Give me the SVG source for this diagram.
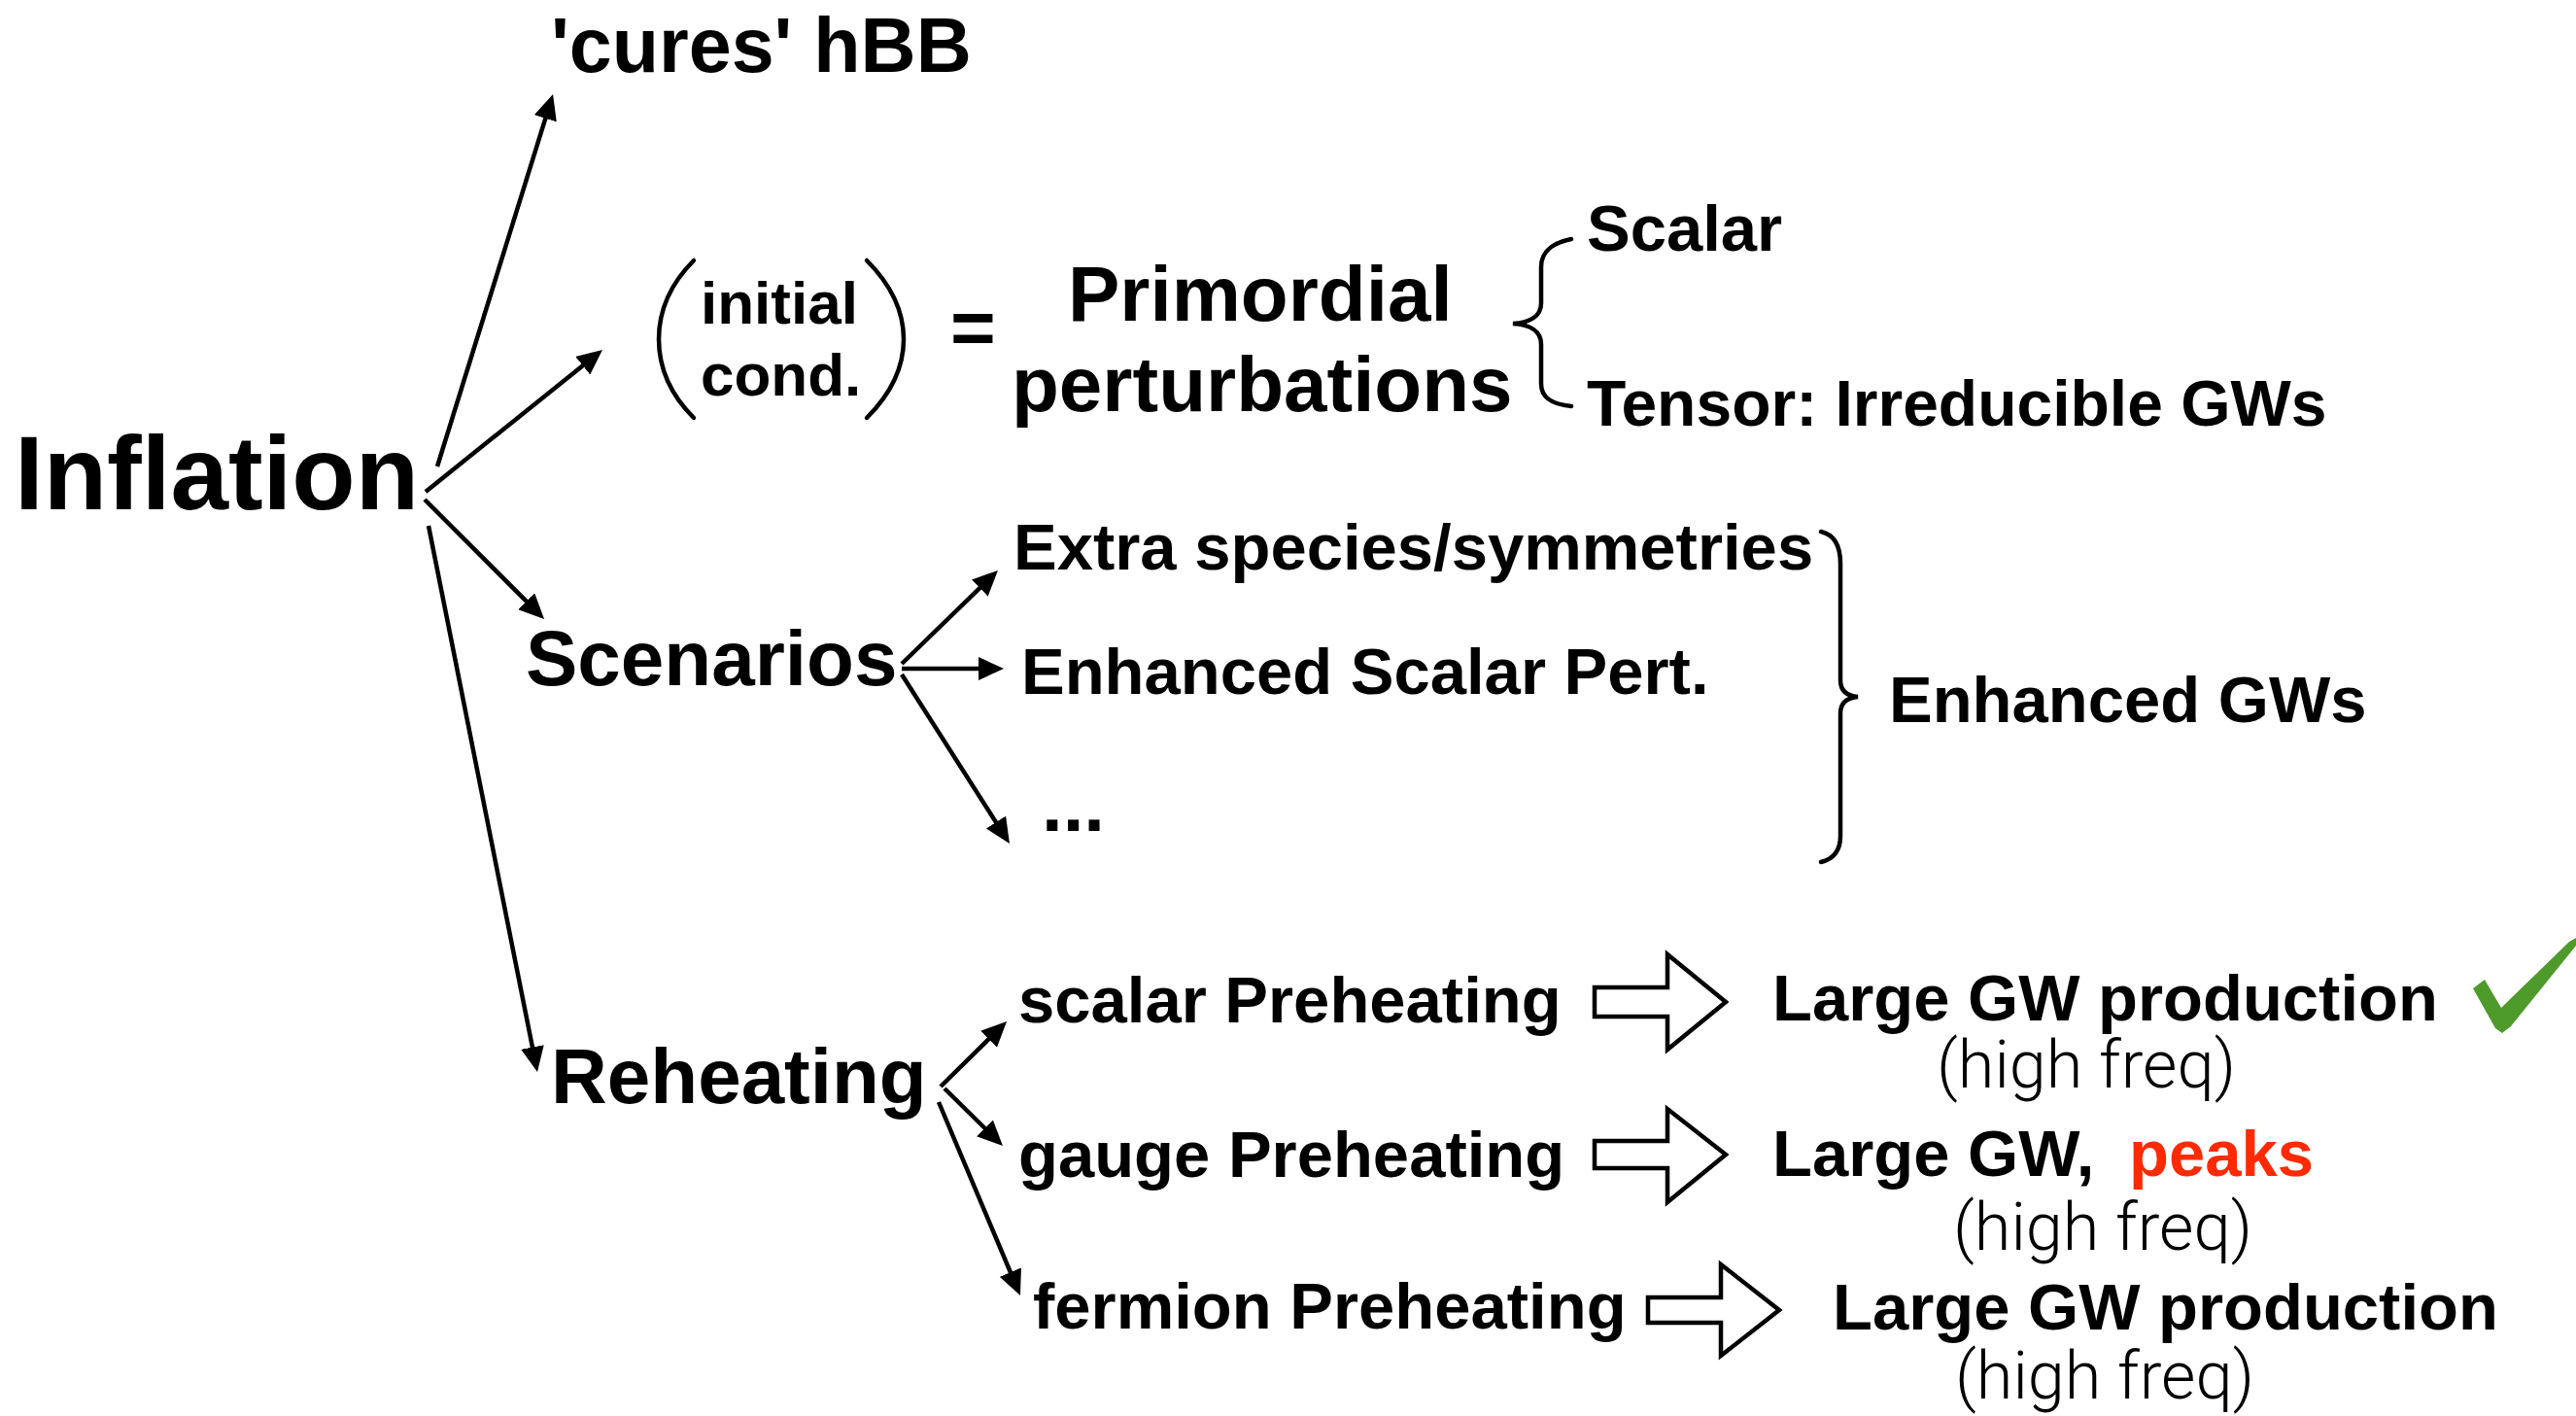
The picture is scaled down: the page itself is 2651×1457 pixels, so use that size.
<svg xmlns="http://www.w3.org/2000/svg" width="2651" height="1457" viewBox="0 0 2651 1457">
<style>
.b{font-family:"Liberation Sans",Arial,Helvetica,sans-serif;font-weight:bold;fill:#000}
.l{font-family:Roboto,"Liberation Sans",Arial,sans-serif;font-weight:300;fill:#000;font-size:68px}
.s67{font-size:67px}
.s80{font-size:80px}
.ar{stroke:#000;stroke-width:4.5;fill:none}
.blk{stroke:#000;stroke-width:4.5;fill:#fff;stroke-linejoin:miter}
.br{stroke:#000;stroke-width:4.5;fill:none;stroke-linecap:round}
</style>
<defs>
<marker id="ah" viewBox="0 0 26 24" refX="6" refY="12" markerWidth="26" markerHeight="24" markerUnits="userSpaceOnUse" orient="auto">
<path d="M0,0 L26,12 L0,24 Z" fill="#000"/>
</marker>
</defs>
<rect width="2651" height="1457" fill="#fff"/>

<g id="connectors">
<line class="ar" x1="450" y1="480" x2="563.1" y2="116.1" marker-end="url(#ah)"/>
<line class="ar" x1="438" y1="506" x2="604.4" y2="372.5" marker-end="url(#ah)"/>
<line class="ar" x1="437" y1="514" x2="545.9" y2="622.9" marker-end="url(#ah)"/>
<line class="ar" x1="441" y1="541" x2="549.1" y2="1083.4" marker-end="url(#ah)"/>
<line class="ar" x1="928" y1="683" x2="1012.6" y2="600.9" marker-end="url(#ah)"/>
<line class="ar" x1="928" y1="688" x2="1013" y2="688" marker-end="url(#ah)"/>
<line class="ar" x1="928" y1="694" x2="1028.2" y2="851.1" marker-end="url(#ah)"/>
<line class="ar" x1="968" y1="1118" x2="1021.8" y2="1065" marker-end="url(#ah)"/>
<line class="ar" x1="972" y1="1120" x2="1017.7" y2="1165" marker-end="url(#ah)"/>
<line class="ar" x1="966" y1="1134" x2="1042.2" y2="1314.6" marker-end="url(#ah)"/>
<path class="blk" d="M1641,1016 L1716,1016 L1716,982 L1776,1031 L1716,1080 L1716,1046 L1641,1046 Z"/>
<path class="blk" d="M1641,1174 L1716,1174 L1716,1141 L1776,1188 L1716,1237 L1716,1202 L1641,1202 Z"/>
<path class="blk" d="M1696,1335 L1771,1335 L1771,1301 L1831,1348 L1771,1395 L1771,1361 L1696,1361 Z"/>
</g>

<g id="inflation"><text class="b" x="15" y="524" font-size="107">Inflation</text></g>
<g id="cures"><text class="b" x="567" y="74" font-size="79">'cures' hBB</text></g>
<g id="initial-cond">
<path class="br" stroke-width="3.8" d="M714,268 C688,294 678,322 678,349 C678,376 688,404 714,430"/>
<path class="br" stroke-width="3.8" d="M892,268 C918,294 930,322 930,349 C930,376 918,404 892,430"/>
<text class="b" x="721" y="333" font-size="62">initial</text>
<text class="b" x="721" y="407" font-size="62">cond.</text>
</g>
<g id="equals"><text class="b" x="978" y="364" font-size="80">=</text></g>
<g id="primordial">
<text class="b s80" x="1099" y="330">Primordial</text>
<text class="b s80" x="1041" y="423">perturbations</text>
<path class="br" d="M1617,246 C1598,250 1586,258 1586,275 L1586,312 C1586,325 1575,332 1557,333 C1575,334 1586,341 1586,354 L1586,395 C1586,410 1598,416 1617,418"/>
</g>
<g id="scalar"><text class="b s67" x="1633" y="258">Scalar</text></g>
<g id="tensor"><text class="b" x="1633" y="438" font-size="66">Tensor: Irreducible GWs</text></g>
<g id="scenarios"><text class="b s80" x="541" y="705">Scenarios</text></g>
<g id="extra"><text class="b s67" x="1043" y="586">Extra species/symmetries</text></g>
<g id="enhanced-scalar"><text class="b s67" x="1051" y="714">Enhanced Scalar Pert.</text></g>
<g id="dots"><text class="b" x="1072" y="855" font-size="78">...</text></g>
<g id="enhanced-gws">
<path class="br" d="M1874,547 C1887,550 1894,560 1894,580 L1894,700 C1894,710 1900,716 1912,717 C1900,718 1894,724 1894,734 L1894,860 C1894,876 1887,884 1874,887"/>
<text class="b s67" x="1944" y="743">Enhanced GWs</text>
</g>
<g id="reheating"><text class="b s80" x="567" y="1135">Reheating</text></g>
<g id="scalar-preheating"><text class="b s67" x="1048" y="1052">scalar Preheating</text></g>
<g id="gauge-preheating"><text class="b s67" x="1048" y="1211">gauge Preheating</text></g>
<g id="fermion-preheating"><text class="b s67" x="1063" y="1367">fermion Preheating</text></g>
<g id="result-scalar">
<text class="b s67" x="1824" y="1050">Large GW production</text>
<text class="l" x="1993" y="1119" textLength="308" lengthAdjust="spacingAndGlyphs">(high freq)</text>
<path fill="#4e9b2c" d="M2545,1017 L2557,1008 L2574,1037 L2644,969 L2651,965 L2651,973 L2584,1056 L2575,1063 L2568,1058 Z"/>
</g>
<g id="result-gauge">
<text class="b s67" x="1824" y="1210">Large GW,<tspan x="2191" fill="#ff2a00">peaks</tspan></text>
<text class="l" x="2010" y="1286" textLength="308" lengthAdjust="spacingAndGlyphs">(high freq)</text>
</g>
<g id="result-fermion">
<text class="b s67" x="1886" y="1368">Large GW production</text>
<text class="l" x="2012" y="1439" textLength="308" lengthAdjust="spacingAndGlyphs">(high freq)</text>
</g>
</svg>
